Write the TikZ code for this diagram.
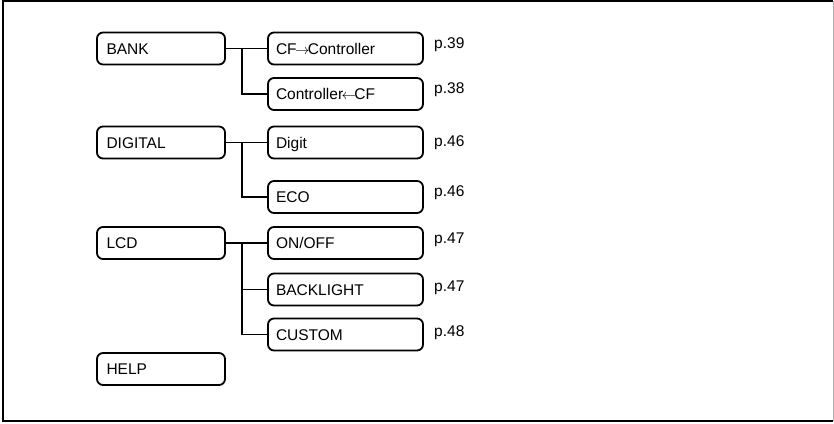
\documentclass[tikz,border=0pt]{standalone}
\usepackage{fontspec}
\setmainfont{Liberation Sans}
\usepackage{tikz}
\usetikzlibrary{positioning}

\begin{document}
\begin{tikzpicture}[x=1pt, y=-1pt,
    every node/.style={font=\fontsize{15.5}{18}\selectfont},
    menubox/.style={draw, line width=1.8pt, rounded corners=6pt, minimum height=32pt,
        text width=109pt, inner xsep=9.5pt, align=left, text height=11pt, text depth=0pt},
    subbox/.style={menubox, text width=139pt, inner xsep=8pt},
    pageref/.style={anchor=west, inner sep=0pt}]
    \useasboundingbox (0,0) rectangle (834,423);

    % Outer frame
    \draw[line width=2pt] (833,1) -- (3,1) -- (3,421) -- (833,421);
    \draw[line width=0.8pt, black!30] (833,1) -- (833,421);

    % Main menu (left column)
    \node[menubox] (bank) at (161,48.5) {BANK};
    \node[menubox] (digital) at (161,142.5) {DIGITAL};
    \node[menubox] (lcd) at (161,243) {LCD};
    \node[menubox] (help) at (161,369) {HELP};

    % Sub menus (right column)
    \node[subbox] (cfctl) at (345.5,48.5) {CF$\mkern-2mu\rightarrow\mkern-2mu$Controller};
    \node[subbox] (ctlcf) at (345.5,94) {Controller$\mkern-2mu\leftarrow\mkern-2mu$CF};
    \node[subbox] (digit) at (345.5,142.5) {Digit};
    \node[subbox] (eco) at (345.5,197) {ECO};
    \node[subbox] (onoff) at (345.5,243) {ON/OFF};
    \node[subbox] (backlight) at (345.5,289.5) {BACKLIGHT};
    \node[subbox] (custom) at (345.5,334.5) {CUSTOM};

    % Branch points
    \coordinate (bankj) at (242,48.5);
    \coordinate (digitalj) at (242,142.5);
    \coordinate (lcdj) at (242,243);

    % Connectors
    \begin{scope}[line width=1.2pt]
        \draw (bank) -- (cfctl);
        \draw (bankj) |- (ctlcf.west);
        \draw (digital) -- (digit);
        \draw (digitalj) |- (eco.west);
        \draw (lcd) -- (onoff);
        \draw (lcdj) |- (backlight.west);
        \draw (lcdj) |- (custom.west);
    \end{scope}

    % Page references
    \node[pageref] (p1) at (434,45) {p.39};
    \node[pageref] (p2) at (434,90) {p.38};
    \node[pageref] (p3) at (434,143) {p.46};
    \node[pageref] (p4) at (434,193) {p.46};
    \node[pageref] (p5) at (434,240) {p.47};
    \node[pageref] (p6) at (434,288) {p.47};
    \node[pageref] (p7) at (434,333) {p.48};
\end{tikzpicture}
\end{document}
